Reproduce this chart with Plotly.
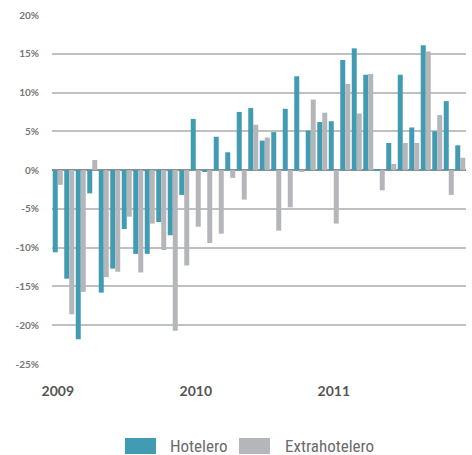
import plotly.graph_objects as go

months = list(range(36))
year_ticks = [0, 12, 24]
year_labels = ["2009", "2010", "2011"]

hotelero = [-10.6, -14.0, -21.8, -3.0, -15.8, -12.7, -7.6, -10.8, -10.8, -6.7, -8.4, -3.2,
            6.6, -0.25, 4.3, 2.3, 7.5, 8.0, 3.8, 4.9, 7.9, 12.1, 5.1, 6.2,
            6.3, 14.2, 15.7, 12.3, 0.1, 3.5, 12.3, 5.5, 16.1, 5.0, 8.9, 3.2]
extrahotelero = [-1.9, -18.6, -15.7, 1.3, -13.8, -13.1, -6.0, -13.2, -6.9, -10.3, -20.7, -12.3,
                 -7.3, -9.4, -8.2, -1.0, -3.8, 5.85, 4.2, -7.8, -4.8, -0.2, 9.1, 7.4,
                 -6.9, 11.1, 7.3, 12.4, -2.6, 0.8, 3.5, 3.5, 15.3, 7.1, -3.2, 1.6]
y_ticks = [-25, -20, -15, -10, -5, 0, 5, 10, 15, 20]
y_labels = [f"{v}%" for v in y_ticks]

BLUE = "#409bb3"
GRAY = "#b5b6b9"

L, R, T, B = 52, 466, 15, 364
W, H = 472, 455
PW, PH = R - L, B - T

fig = go.Figure()
fig.add_bar(x=months, y=hotelero, name="Hotelero", marker=dict(color=BLUE, line_width=0))
fig.add_bar(x=months, y=extrahotelero, name="Extrahotelero", marker=dict(color=GRAY, line_width=0))

fig.update_layout(
    width=W, height=H,
    margin=dict(l=L, r=W - R, t=T, b=H - B, autoexpand=False),
    plot_bgcolor="white", paper_bgcolor="white",
    barmode="group", bargap=0.13, bargroupgap=0,
    showlegend=False,
    font=dict(family="Lato", color="#6d6d6d"),
)
fig.update_xaxes(
    range=[-0.5, 35.5], tickmode="array", tickvals=year_ticks, ticktext=year_labels,
    showgrid=False, zeroline=False, showline=False, automargin=False,
    ticks="outside", ticklen=14, tickcolor="rgba(0,0,0,0)",
    tickfont=dict(family="Lato", size=14, color="#555555", weight="bold"),
)
fig.update_yaxes(
    range=[-25, 20], tickmode="array", tickvals=y_ticks, ticktext=y_labels,
    showgrid=True, gridcolor="#bfc0c2", gridwidth=1.5,
    zeroline=True, zerolinecolor="#8e8f92", zerolinewidth=1.5,
    showline=False, automargin=False,
    ticks="outside", ticklen=10, tickcolor="rgba(0,0,0,0)",
    tickfont=dict(family="Lato", size=10, color="#777777", weight="bold"),
)

# custom legend
legend_items = [("Hotelero", BLUE, 125, 168), ("Extrahotelero", GRAY, 239, 283)]
for name, color, x0, tx in legend_items:
    fig.add_shape(type="rect", xref="paper", yref="paper",
                  x0=(x0 - L) / PW, x1=(x0 + 31 - L) / PW,
                  y0=-(454 - B) / PH, y1=-(438 - B) / PH,
                  fillcolor=color, line_width=0)
    fig.add_annotation(xref="paper", yref="paper",
                       x=(tx - L) / PW, y=-(445.5 - B) / PH,
                       text=name, showarrow=False, xanchor="left", yanchor="middle",
                       font=dict(family="Liberation Sans Narrow, Roboto Condensed, DejaVu Sans Condensed",
                                 size=17, color="#6b6b6b"))

fig.write_html("out.html", config={"displayModeBar": False},
               post_script="document.body.style.margin='0';document.body.style.overflow='hidden';")
